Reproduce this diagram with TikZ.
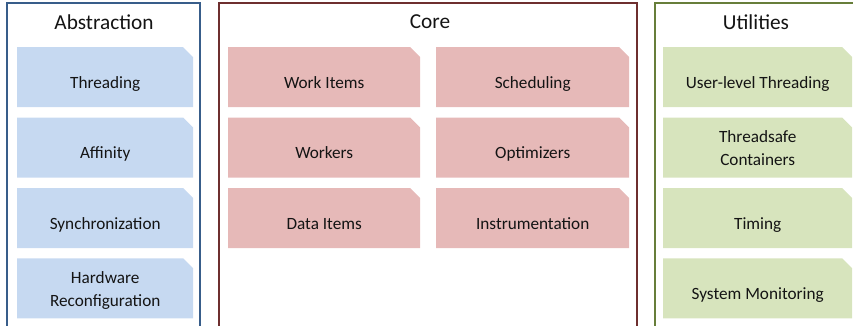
\documentclass[tikz,border=0pt]{standalone}
\usepackage{fontspec}
\setmainfont{Carlito}
\usetikzlibrary{positioning,shapes.misc}
\definecolor{absfill}{HTML}{C6D9F1}
\definecolor{absline}{HTML}{385D8A}
\definecolor{corefill}{HTML}{E6B9B8}
\definecolor{coreline}{HTML}{6E2F2F}
\definecolor{utilfill}{HTML}{D7E4BD}
\definecolor{utilline}{HTML}{677E3A}
\definecolor{txt}{HTML}{141414}
% struts for the two-line labels
\newcommand\topstrut{\rule{0pt}{19pt}}
\newcommand\botstrut{\rule[-6pt]{0pt}{6pt}}
\tikzstyle{block}=[chamfered rectangle, chamfered rectangle corners=north east, chamfered rectangle xsep=5pt, chamfered rectangle ysep=5pt, inner sep=0pt, anchor=north west, minimum height=60pt, text centered, align=center, text=txt, font=\fontsize{17.2}{23.6}\selectfont]
\tikzstyle{oneline}=[block, text height=28pt, text depth=6pt]
\tikzstyle{title}=[text=txt, font=\fontsize{21.3}{24}\selectfont]

\begin{document}
\begin{tikzpicture}[
        x=1pt, y=-1pt,
        node distance = 10pt,
        frame/.style={line width=2pt},
      ]
      \useasboundingbox (0,0) rectangle (853,325);
      % frames, left open at the bottom
      \draw [frame, absline] (7,340) |- (200,3) -- (200,340);
      \draw [frame, coreline] (219,340) |- (637,3) -- (637,340);
      \draw [frame, utilline] (655,340) |- (857,3) -- (857,340);
      \node (Abstraction) [title] at (104,22) {Abstraction};
      \node (Core) [title] at (430,22) {Core};
      \node (Utilities) [title] at (756,22) {Utilities};
      % abstraction column
      \node (Threading) [oneline, fill=absfill, minimum width=176pt] at (17,47) {Threading};
      \node (Affinity) [oneline, fill=absfill, minimum width=176pt, below=of Threading.south west, anchor=north west] {Affinity};
      \node (Synchronization) [oneline, fill=absfill, minimum width=176pt, below=of Affinity.south west, anchor=north west] {Synchronization};
      \node (Hardware) [block, fill=absfill, minimum width=176pt, below=of Synchronization.south west, anchor=north west] {\topstrut Hardware\\Reconfiguration\botstrut};
      % core columns
      \node (WorkItems) [oneline, fill=corefill, minimum width=192pt] at (228,47) {Work Items};
      \node (Workers) [oneline, fill=corefill, minimum width=192pt, below=of WorkItems.south west, anchor=north west] {Workers};
      \node (DataItems) [oneline, fill=corefill, minimum width=192pt, below=of Workers.south west, anchor=north west] {Data Items};
      \node (Scheduling) [oneline, fill=corefill, minimum width=193pt] at (436,47) {Scheduling};
      \node (Optimizers) [oneline, fill=corefill, minimum width=193pt, below=of Scheduling.south west, anchor=north west] {Optimizers};
      \node (Instrumentation) [oneline, fill=corefill, minimum width=193pt, below=of Optimizers.south west, anchor=north west] {Instrumentation};
      % utilities column
      \node (UserThreading) [oneline, fill=utilfill, minimum width=189pt] at (663,47) {User-level Threading};
      \node (Containers) [block, fill=utilfill, minimum width=189pt, below=of UserThreading.south west, anchor=north west] {\topstrut Threadsafe\\Containers\botstrut};
      \node (Timing) [oneline, fill=utilfill, minimum width=189pt, below=of Containers.south west, anchor=north west] {Timing};
      \node (Monitoring) [oneline, fill=utilfill, minimum width=189pt, below=of Timing.south west, anchor=north west] {System Monitoring};
    \end{tikzpicture}
\end{document}
